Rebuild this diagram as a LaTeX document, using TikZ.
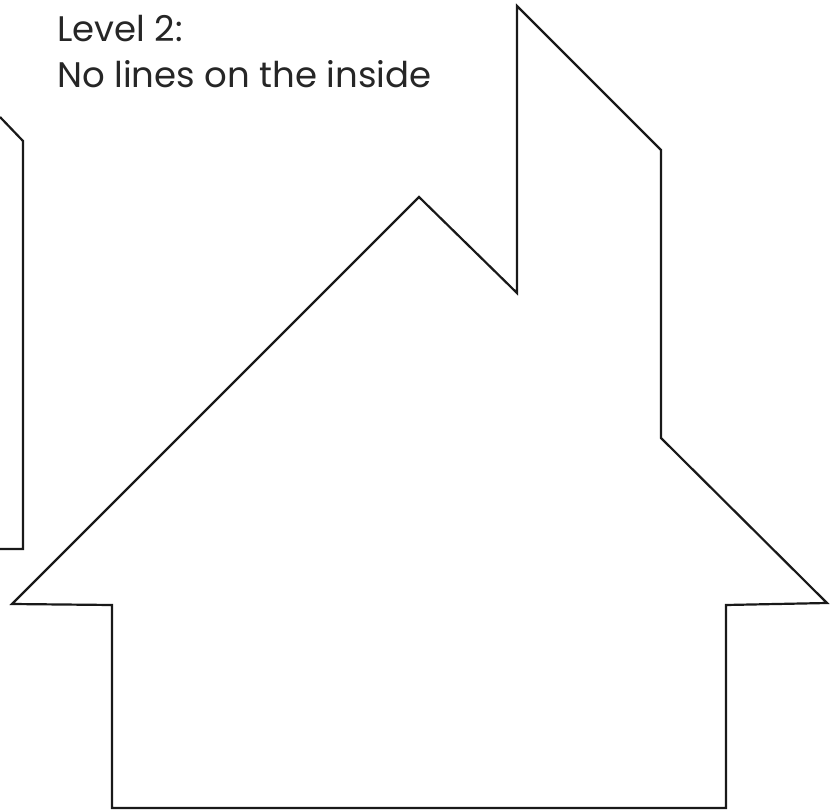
\documentclass[tikz,border=0pt]{standalone}
\usepackage{fontspec}
\setmainfont{Poppins}
\begin{document}
\begin{tikzpicture}[x=1pt,y=-1pt,
  outline/.style={draw=black!90,line width=2.2pt,line join=miter},
  label/.style={anchor=base west,inner sep=0pt,text=black!85,font=\fontsize{35.5}{42}\selectfont}]
\useasboundingbox (0,0) rectangle (835,810);
\draw[outline] (517,6) -- (661,150) -- (661,438) -- (827,603) -- (726,605) -- (726,808)
  -- (112,808) -- (112,605) -- (12,604) -- (419,197) -- (517,293) -- cycle;
\draw[outline] (0,117) -- (23,141) -- (23,549) -- (0,549);
\node[label] (l1) at (57,42) {Level 2:};
\node[label] (l2) at (57,88) {No lines on the inside};
\end{tikzpicture}
\end{document}
